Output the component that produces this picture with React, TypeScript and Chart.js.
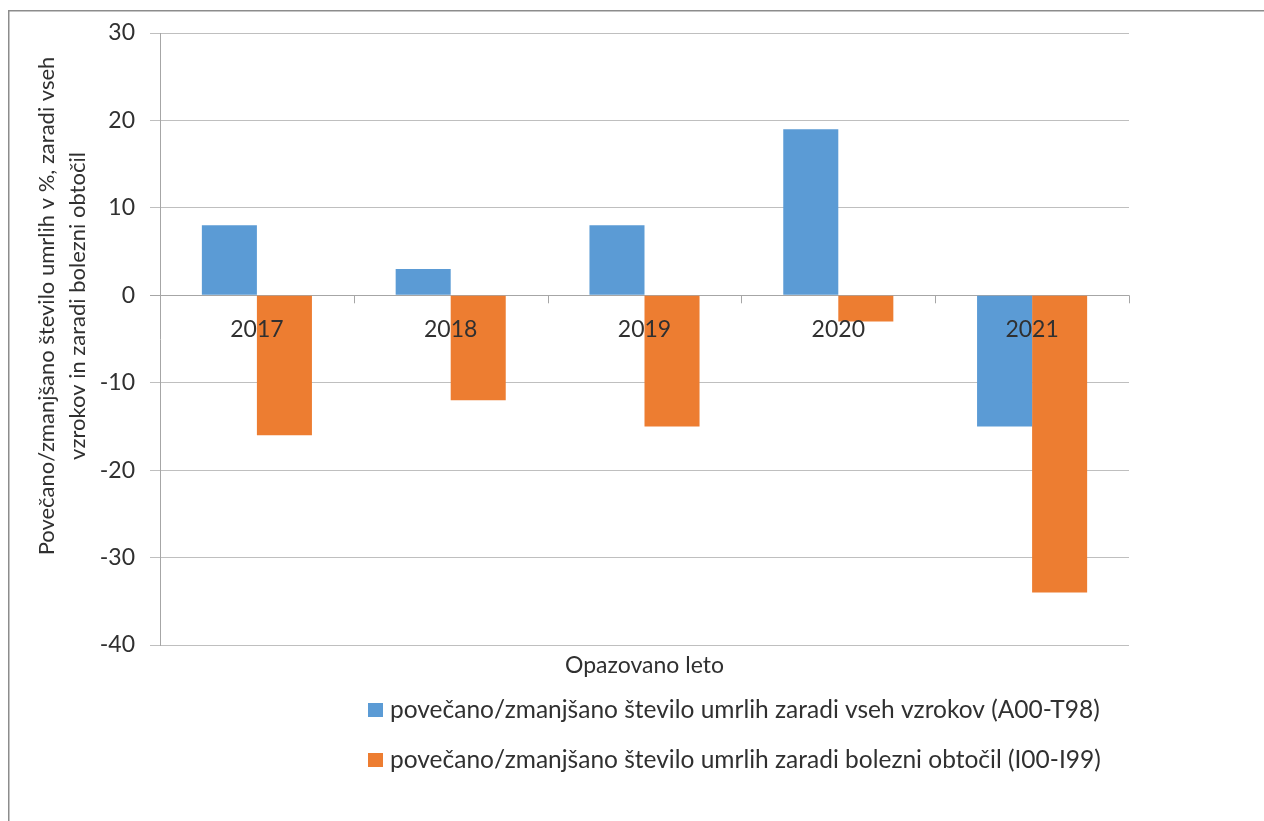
import React, { useEffect, useRef } from "react";
import { Chart, registerables } from "chart.js";

Chart.register(...registerables);

const categories = ["2017", "2018", "2019", "2020", "2021"];
const seriesAllCauses = [8, 3, 8, 19, -15];
const seriesCirculatory = [-16, -12, -15, -3, -34];
const seriesNames = [
  "povečano/zmanjšano število umrlih zaradi vseh vzrokov (A00-T98)",
  "povečano/zmanjšano število umrlih zaradi bolezni obtočil (I00-I99)",
];
const yTitleLines = [
  "Povečano/zmanjšano število umrlih v %, zaradi vseh",
  "vzrokov in zaradi bolezni obtočil",
];
const xTitle = "Opazovano leto";
const yMin = -40;
const yMax = 30;
const yStep = 10;

const FONT = "Lato, 'Liberation Sans', sans-serif";
const TEXT = "#303030";
const COLORS = ["#5B9BD5", "#ED7D31"];

const decorPlugin = {
  id: "decor",
  afterDraw(chart: any) {
    const ctx = chart.ctx;
    const area = chart.chartArea;
    const x = chart.scales.x;
    const y = chart.scales.y;
    const zeroY = y.getPixelForValue(0);
    ctx.save();
    // outer border
    ctx.strokeStyle = "#8c8c8c";
    ctx.lineWidth = 1.5;
    ctx.strokeRect(8.75, 10.75, 2000, 2000);

    // category ticks on zero axis
    ctx.strokeStyle = "#a6a6a6";
    ctx.lineWidth = 1;
    const n = categories.length;
    for (let i = 0; i <= n; i++) {
      let px;
      if (i === 0) px = area.left;
      else if (i === n) px = area.right;
      else px = (x.getPixelForValue(i - 1) + x.getPixelForValue(i)) / 2;
      ctx.beginPath();
      ctx.moveTo(Math.round(px) + 0.5, zeroY);
      ctx.lineTo(Math.round(px) + 0.5, zeroY + 8);
      ctx.stroke();
    }

    // category labels next to axis
    ctx.fillStyle = TEXT;
    ctx.font = `23px ${FONT}`;
    ctx.textAlign = "center";
    ctx.textBaseline = "middle";
    categories.forEach((c, i) => {
      ctx.fillText(c, x.getPixelForValue(i), zeroY + 34);
    });

    // x title
    ctx.fillText(xTitle, (area.left + area.right) / 2, 666);

    // y title (rotated, two lines)
    ctx.save();
    ctx.translate(47, 306);
    ctx.rotate(-Math.PI / 2);
    ctx.font = `22px ${FONT}`;
    ctx.fillText(yTitleLines[0], 0, 0);
    ctx.fillText(yTitleLines[1], 0, 31);
    ctx.restore();

    // legend
    ctx.textAlign = "left";
    ctx.font = `24.5px ${FONT}`;
    const rows = [710, 760];
    seriesNames.forEach((name, i) => {
      ctx.fillStyle = COLORS[i];
      ctx.fillRect(368, rows[i] - 7, 15, 14);
      ctx.fillStyle = TEXT;
      ctx.fillText(name, 390, rows[i]);
    });
    ctx.restore();
  },
};

export default function App() {
  const ref = useRef<HTMLCanvasElement | null>(null);
  useEffect(() => {
    if (!ref.current) return;
    const chart = new Chart(ref.current, {
      type: "bar",
      data: {
        labels: categories,
        datasets: [
          {
            label: seriesNames[0],
            data: seriesAllCauses,
            backgroundColor: COLORS[0],
            categoryPercentage: 0.568,
            barPercentage: 1,
          },
          {
            label: seriesNames[1],
            data: seriesCirculatory,
            backgroundColor: COLORS[1],
            categoryPercentage: 0.568,
            barPercentage: 1,
          },
        ],
      },
      options: {
        animation: false,
        responsive: true,
        maintainAspectRatio: false,
        layout: { padding: { left: 100, right: 135, top: 33, bottom: 176 } },
        plugins: {
          legend: { display: false },
          tooltip: { enabled: false },
          title: { display: false },
        },
        scales: {
          x: { display: false },
          y: {
            min: yMin,
            max: yMax,
            ticks: {
              stepSize: yStep,
              padding: 15,
              color: TEXT,
              font: { family: FONT, size: 23 },
            },
            grid: {
              color: (c: any) => (c.tick && c.tick.value === 0 ? "#a6a6a6" : "#bfbfbf"),
              lineWidth: 1,
              tickLength: 10,
              drawTicks: true,
            },
            border: { display: true, color: "#a6a6a6", width: 1 },
            afterFit: (s: any) => {
              s.width = 60;
            },
          },
        },
      },
      plugins: [decorPlugin],
    });
    return () => chart.destroy();
  }, []);
  return (
    <div style={{ position: "fixed", left: 0, top: 0, width: 1264, height: 821, background: "#fff" }}>
      <canvas ref={ref} />
    </div>
  );
}
